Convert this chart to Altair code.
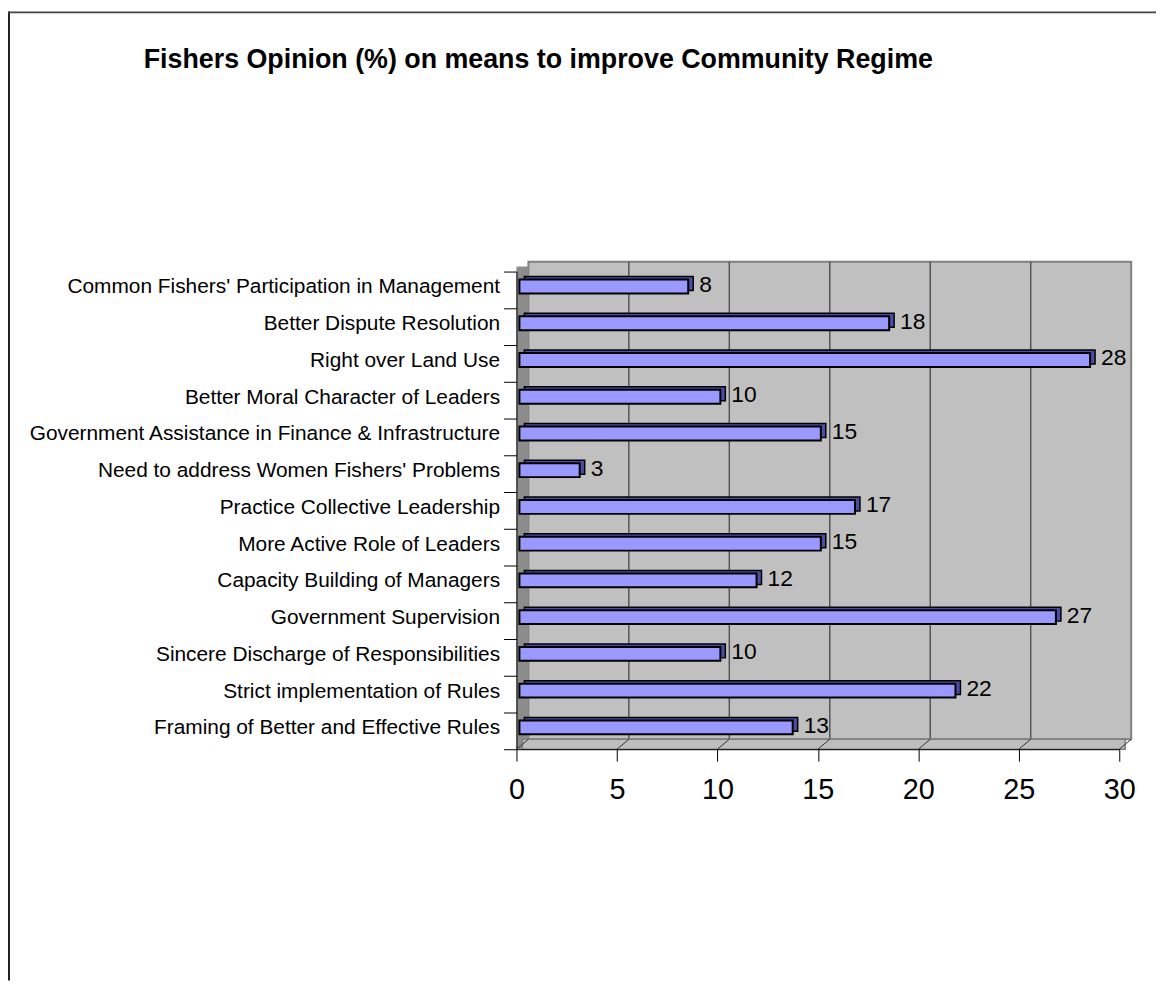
import altair as alt
import pandas as pd

# ---------------- data ----------------
categories = [
    "Common Fishers' Participation in Management\u00a0",
    "Better Dispute Resolution",
    "Right over Land Use",
    "Better Moral Character of Leaders",
    "Government Assistance in Finance & Infrastructure\u00a0",
    "Need to address Women Fishers' Problems",
    "Practice Collective Leadership",
    "More Active Role of Leaders",
    "Capacity Building of Managers",
    "Government Supervision",
    "Sincere Discharge of Responsibilities",
    "Strict implementation of Rules\u00a0",
    "Framing of Better and Effective Rules",
]
values = [8.4, 18.4, 28.4, 10.0, 15.0, 3.0, 16.7, 15.0, 11.8, 26.7, 10.0, 21.7, 13.6]
value_labels = ["8", "18", "28", "10", "15", "3", "17", "15", "12", "27", "10", "22", "13"]
x_ticks = [0, 5, 10, 15, 20, 25, 30]
back_grid = [5, 10, 15, 20, 25]
x_max = 30
title_text = "Fishers Opinion (%) on means to improve Community Regime"

# ---------------- layout / style ----------------
FONT = "Liberation Sans"
W, H = 607, 481            # plot area (front plane)
PAD_L, PAD_T = 512, 262
PAD_R = 1156 - PAD_L - W
PAD_B = 976 - PAD_T - H
DX, DY = 12, 10            # 3-D depth of walls (px)
BX, BDX, BDY = 3, 5, 3     # bar shift and bar depth

df = pd.DataFrame({"category": categories, "value": values, "label": value_labels})
df_back_grid = pd.DataFrame({"v": back_grid})
df_ticks = pd.DataFrame({"v": x_ticks})
df_extent = pd.DataFrame({"a": [0], "b": [x_max]})
df_title = pd.DataFrame({"t": [title_text]})

xscale = alt.Scale(domain=[0, x_max], nice=False, zero=True)
yscale = alt.Scale(paddingInner=0, paddingOuter=0)

xaxis = alt.Axis(values=x_ticks, title=None, grid=False, tickSize=12,
                 tickColor="black", domainColor="black", domainWidth=1,
                 labelFontSize=29, labelFont=FONT, labelColor="black",
                 labelPadding=15, labelFlush=False, zindex=1)
yaxis = alt.Axis(title=None, tickBand="extent", tickSize=13,
                 tickColor="black", domainColor="black",
                 labelFontSize=21, labelFont=FONT, labelColor="black",
                 labelPadding=4, labelLimit=700, labelOffset=-3, zindex=1)


def X(field):
    return alt.X(field, scale=xscale, axis=xaxis)


def Y():
    return alt.Y("category:N", sort=categories, scale=yscale, axis=yaxis)


back_wall = alt.Chart(df_extent).mark_rect(
    fill="#C0C0C0", stroke="#808080", strokeWidth=2,
    xOffset=DX, x2Offset=DX, yOffset=-DY, y2Offset=-DY
).encode(x=X("a:Q"), x2="b:Q", y=alt.value(0), y2=alt.value(H))

grid = alt.Chart(df_back_grid).mark_rule(
    color="#555555", strokeWidth=1.5, xOffset=DX, yOffset=-DY, y2Offset=-DY
).encode(x=X("v:Q"), y=alt.value(0), y2=alt.value(H))

side_wall = alt.Chart(df_extent).mark_rect(
    fill="#8C8C8C", x2Offset=DX, yOffset=-DY / 2
).encode(x=X("a:Q"), x2="a:Q", y=alt.value(0), y2=alt.value(H))

floor_area = alt.Chart(df_extent).mark_rect(
    fill="#BEBEBE", stroke="#808080", strokeWidth=1.5,
    xOffset=DX / 2, x2Offset=DX / 2
).encode(x=X("a:Q"), x2="b:Q", y=alt.value(H - DY), y2=alt.value(H))

floor_grid = alt.Chart(df_ticks).mark_rule(
    color="#333333", strokeWidth=1, x2Offset=DX
).encode(x=X("v:Q"), x2="v:Q", y=alt.value(H), y2=alt.value(H - DY))

bar_back = alt.Chart(df).mark_bar(
    color="#4D4DA6", stroke="black", strokeWidth=1.5, size=14,
    xOffset=BX + BDX, x2Offset=BX + BDX, yOffset=-3.5 - BDY
).encode(x=X("value:Q"), y=Y())

bar_front = alt.Chart(df).mark_bar(
    color="#9999FF", stroke="black", strokeWidth=2, size=14,
    xOffset=BX, x2Offset=BX, yOffset=-3.5
).encode(x=X("value:Q"), y=Y())

text = alt.Chart(df).mark_text(
    align="left", baseline="middle", dx=BX + 11, dy=-5,
    fontSize=23, font=FONT, color="black"
).encode(x=X("value:Q"), y=Y(), text="label:N")

title = alt.Chart(df_title).mark_text(
    align="center", baseline="middle", fontSize=27, fontWeight="bold",
    font=FONT, color="black"
).encode(x=alt.value(542 - 520), y=alt.value(57 - 270), text="t:N")

border_left = alt.Chart(df_title).mark_rule(color="#222222", strokeWidth=2).encode(
    x=alt.value(-PAD_L + 1), y=alt.value(-PAD_T), y2=alt.value(H + PAD_B))
border_top = alt.Chart(df_title).mark_rule(color="#444444", strokeWidth=2).encode(
    y=alt.value(-PAD_T + 1), x=alt.value(-PAD_L), x2=alt.value(W + PAD_R))

chart = alt.layer(
    border_left, border_top, title,
    back_wall, grid, side_wall, floor_area, floor_grid,
    bar_back, bar_front, text
).properties(
    width=W, height=H,
    padding={"left": PAD_L, "top": PAD_T, "right": PAD_R, "bottom": PAD_B},
    autosize=alt.AutoSizeParams(type="none"),
    background="white"
).configure_view(stroke="transparent")

chart.save("out.html", embed_options={"renderer": "svg", "actions": False})
